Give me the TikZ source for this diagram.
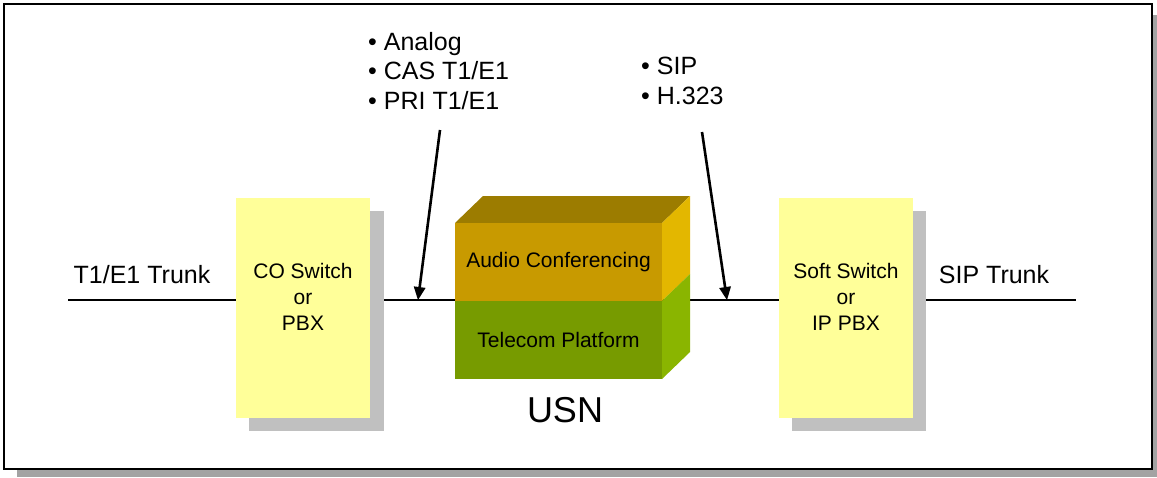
\documentclass[tikz,border=0pt]{standalone}
\usepackage{fontspec}
\setmainfont{Liberation Sans}
\usetikzlibrary{calc}
\definecolor{boxyellow}{HTML}{FFFF99}
\definecolor{boxshadow}{HTML}{C0C0C0}
\definecolor{frameshadow}{HTML}{A3A3A3}
\definecolor{cubetop}{HTML}{9C7C00}
\definecolor{audiofront}{HTML}{C89A00}
\definecolor{audioside}{HTML}{E3B700}
\definecolor{telefront}{HTML}{779B00}
\definecolor{teleside}{HTML}{8AB500}
\tikzset{
  device/.style={fill=boxyellow, draw=none, minimum width=134pt, minimum height=220pt,
    inner sep=0pt},
  devtext/.style={inner sep=0pt, align=center, font=\fontsize{21}{26}\selectfont},
  devshadow/.style={fill=boxshadow, draw=none},
  layer/.style={draw=none, minimum width=207pt, minimum height=78pt, inner sep=0pt,
    font=\fontsize{21}{25}\selectfont},
  trunklabel/.style={inner sep=0pt, font=\fontsize{25}{30}\selectfont},
  bullets/.style={inner sep=0pt, align=left, font=\fontsize{25}{29.5}\selectfont},
  trunk/.style={line width=1.4pt},
  calloutline/.style={line width=2.6pt},
  callouthead/.style={fill=black},
}
\begin{document}
\begin{tikzpicture}[x=1pt, y=1pt]
  \useasboundingbox (0,-477) rectangle (1157,0);
  % page frame with its drop shadow
  \fill[frameshadow] (17,-15) rectangle (1157,-477);
  \draw[line width=2pt, fill=white] (4,-4) rectangle (1152,-469);

  % trunk line running through the devices
  \coordinate (lineL) at (68,-300);
  \coordinate (lineR) at (1076,-300);
  \draw[trunk] (lineL) -- (lineR);

  % CO switch / PBX
  \fill[devshadow] (249,-211) rectangle (384,-431);
  \node[device] (co) at (303,-308) {};
  \node[devtext] (cotext) at (303,-297) {CO Switch\\or\\PBX};

  % soft switch / IP PBX
  \fill[devshadow] (792,-211) rectangle (926,-431);
  \node[device] (soft) at (846,-308) {};
  \node[devtext] (softtext) at (846,-297) {Soft Switch\\or\\IP PBX};

  % USN block
  \fill[cubetop] (455,-223) -- (483,-196) -- (690,-196) -- (662,-223) -- cycle;
  \fill[audioside] (662,-223) -- (690,-196) -- (690,-274) -- (662,-301) -- cycle;
  \fill[teleside] (662,-301) -- (690,-274) -- (690,-352) -- (662,-379) -- cycle;
  \node[layer, fill=audiofront] (audio) at (558.5,-262) {Audio Conferencing};
  \node[layer, fill=telefront] (telecom) at (558.5,-340) {Telecom Platform};
  \node[inner sep=0pt, font=\fontsize{36}{40}\selectfont] (usn) at (565,-410) {USN};

  % trunk labels
  \node[trunklabel] (t1) at (142,-275) {T1/E1 Trunk};
  \node[trunklabel] (sip) at (994,-275) {SIP Trunk};

  % interface lists
  \node[bullets, anchor=north west] (tdm) at (368,-32)
    {• Analog\\• CAS T1/E1\\• PRI T1/E1};
  \node[bullets, anchor=north west] (voip) at (641,-57)
    {• SIP\\• H.323};

  % pointers to the trunk segments
  \coordinate (srcL) at (440,-130);
  \coordinate (tapL) at (418,-300);
  \coordinate (srcR) at (702,-132);
  \coordinate (tapR) at (727,-300);
  \draw[calloutline, shorten >=10pt] (srcL) -- (tapL);
  \draw[calloutline, shorten >=10pt] (srcR) -- (tapR);
  % filled heads, 13pt long and 12pt wide, along each pointer
  \fill[callouthead] (tapL) -- ($(tapL)!13pt!(srcL)!6pt!90:(srcL)$)
    -- ($(tapL)!13pt!(srcL)!6pt!-90:(srcL)$) -- cycle;
  \fill[callouthead] (tapR) -- ($(tapR)!13pt!(srcR)!6pt!90:(srcR)$)
    -- ($(tapR)!13pt!(srcR)!6pt!-90:(srcR)$) -- cycle;
\end{tikzpicture}
\end{document}
